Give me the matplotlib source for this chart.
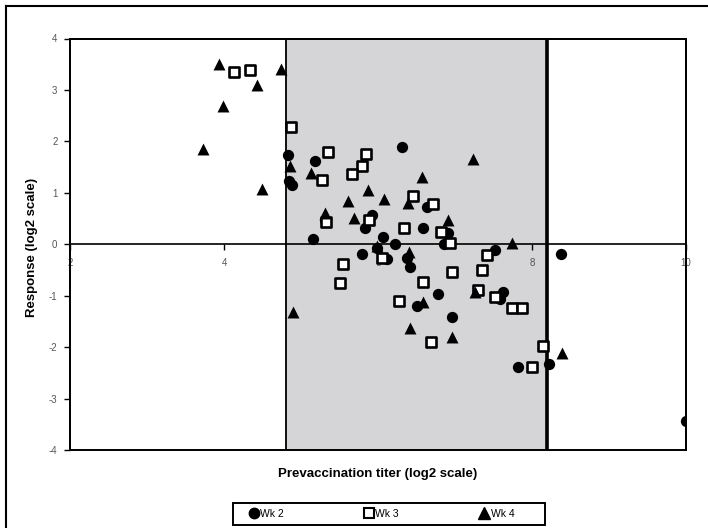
import matplotlib
matplotlib.use("Agg")
import matplotlib.pyplot as plt
from matplotlib.patches import Rectangle
from matplotlib.lines import Line2D

plt.rcParams["font.family"] = ["Liberation Sans", "DejaVu Sans"]

# prevaccination titer (x) vs response (y), both log2
wk2_x = [4.83, 4.85, 4.88, 5.18, 5.31, 5.92, 5.83, 6.06, 5.16, 6.31, 6.64, 6.58,
         6.91, 6.86, 6.22, 5.79, 5.99, 6.12, 6.38, 6.42, 6.51, 6.78, 6.96, 7.52,
         7.62, 7.58, 7.82, 8.22, 8.38, 10.0]
wk2_y = [1.73, 1.22, 1.15, 1.61, 0.47, 0.56, 0.31, 0.14, 0.10, 1.90, 0.72, 0.31,
         0.21, 0.0, 0.0, -0.19, -0.08, -0.29, -0.26, -0.45, -1.20, -0.96, -1.41, -0.12,
         -0.93, -1.06, -2.38, -2.32, -0.18, -3.44]

wk3_x = [4.13, 4.34, 4.87, 5.35, 5.84, 5.79, 5.66, 5.27, 5.32, 5.88, 6.34, 6.45,
         6.71, 6.82, 6.94, 5.55, 5.51, 6.05, 6.27, 6.58, 6.96, 7.35, 7.42, 7.30,
         7.52, 7.74, 7.87, 6.69, 8.14, 8.00]
wk3_y = [3.34, 3.38, 2.27, 1.79, 1.75, 1.53, 1.36, 1.24, 0.43, 0.47, 0.31, 0.93,
         0.78, 0.23, 0.02, -0.39, -0.76, -0.27, -1.11, -0.74, -0.54, -0.50, -0.21, -0.89,
         -1.02, -1.24, -1.24, -1.90, -1.98, -2.39]

wk4_x = [3.94, 3.99, 3.73, 4.43, 4.49, 4.74, 4.90, 4.86, 5.13, 5.87, 5.61, 6.08,
         5.31, 5.69, 6.39, 6.57, 7.23, 6.91, 7.74, 5.99, 6.40, 6.58, 7.26, 6.42,
         6.96, 8.39]
wk4_y = [3.51, 2.68, 1.86, 3.09, 1.07, 3.40, -1.32, 1.53, 1.38, 1.05, 0.85, 0.87,
         0.60, 0.52, 0.80, 1.30, 1.65, 0.47, 0.03, -0.04, -0.16, -1.13, -0.93, -1.63,
         -1.80, -2.11]

band_lo, band_hi = 4.8, 8.2
x_ticks = [2, 4, 6, 8, 10]
y_ticks = [-4, -3, -2, -1, 0, 1, 2, 3, 4]

W, H = 708, 528
fig = plt.figure(figsize=(W / 100, H / 100), dpi=100)
ax = fig.add_axes([70 / W, 78 / H, 616 / W, 411.5 / H])

ax.set_xlim(2, 10)
ax.set_ylim(-4, 4)

# shaded band between the two cut-offs
ax.axvspan(band_lo, band_hi, color="#d5d5d8", zorder=0)
ax.axvline(band_lo, color="black", lw=1.3, zorder=1)
ax.axvline(band_hi, color="black", lw=2.6, zorder=1)

# x axis crosses at y = 0, box drawn around the plot area
ax.spines["bottom"].set_position(("data", 0))
for s in ax.spines.values():
    s.set_linewidth(1.2)
ax.add_patch(Rectangle((0, 0), 1, 1, transform=ax.transAxes, fill=False,
                       lw=1.4, ec="black", zorder=5, clip_on=False))

ax.scatter(wk2_x, wk2_y, marker="o", s=66, c="black", linewidths=0, zorder=3)
ax.scatter(wk3_x, wk3_y, marker="s", s=54, facecolors="white", edgecolors="black",
           linewidths=1.9, zorder=3)
ax.scatter(wk4_x, wk4_y, marker="^", s=74, c="black", linewidths=0, zorder=3)

ax.set_xticks(x_ticks)
ax.set_yticks(y_ticks)
ax.set_xticklabels([str(t) for t in x_ticks])
ax.set_yticklabels([str(t) for t in y_ticks])
ax.tick_params(axis="both", direction="out", length=4, width=1, labelsize=7,
               labelcolor="#555555")
ax.tick_params(axis="x", pad=6)
ax.tick_params(axis="y", pad=5)

fig.text(378 / W, 1 - 474 / H, "Prevaccination titer (log2 scale)",
         ha="center", va="center", fontsize=9.5, fontweight="bold")
fig.text(32 / W, 1 - 247 / H, "Response (log2 scale)", rotation=90,
         ha="center", va="center", fontsize=9.5, fontweight="bold")

handles = [
    Line2D([], [], ls="none", marker="o", ms=7.5, mfc="black", mec="black"),
    Line2D([], [], ls="none", marker="s", ms=7, mfc="white", mec="black", mew=1.5),
    Line2D([], [], ls="none", marker="^", ms=8.5, mfc="black", mec="black"),
]
leg = fig.legend(handles, ["Wk 2", "Wk 3", "Wk 4"], ncol=3, loc="center",
                 bbox_to_anchor=(382 / W, 1 - 514 / H), fontsize=7.5,
                 frameon=False, handlelength=0.8,
                 handletextpad=0.2, columnspacing=7.8)
# legend box
fig.add_artist(Rectangle((233 / W, 1 - 525 / H), 312 / W, 22 / H,
                         transform=fig.transFigure, fill=False, ec="black", lw=1.4))

# outer chart frame, left and top edges
fig.add_artist(Line2D([6 / W, 6 / W], [0, 1 - 6 / H], color="black", lw=1.5))
fig.add_artist(Line2D([6 / W, 1], [1 - 6 / H, 1 - 6 / H], color="black", lw=1.5))

fig.savefig("out.png", dpi=100)
